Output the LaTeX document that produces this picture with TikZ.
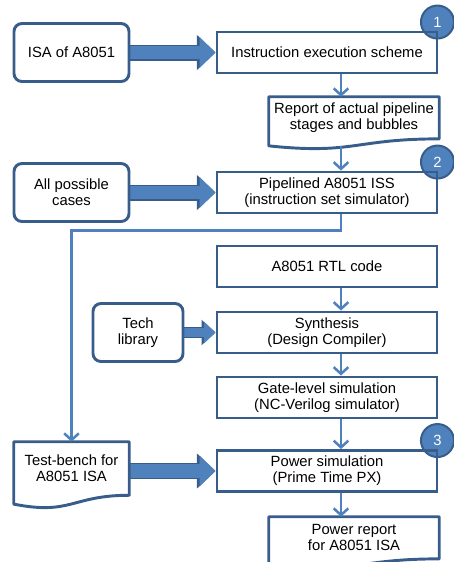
\documentclass[tikz,border=0pt]{standalone}
\usepackage{fontspec}
\setmainfont{Liberation Sans}
\usetikzlibrary{positioning, arrows.meta, calc, backgrounds}
\definecolor{boxblue}{RGB}{56,93,138}
\definecolor{arrowblue}{RGB}{79,129,189}
\tikzset{
  proc/.style={draw=boxblue, line width=2.2pt, minimum width=165pt, minimum height=30.75pt, inner sep=0pt, align=center},
  src/.style={draw=boxblue, line width=2.2pt, rounded corners=6pt, minimum width=86.25pt, minimum height=43.5pt, inner sep=0pt, align=center},
  docbox/.style={minimum width=127.5pt, minimum height=31.2pt, inner sep=0pt, align=center},
  conn/.style={draw=arrowblue, line width=1.9pt, -{Straight Barb[length=5pt, width=11pt]}},
  fatrim/.style={draw=boxblue, line width=12pt, -{Triangle[length=14pt, width=25.5pt]}},
  fat/.style={draw=arrowblue, line width=10pt, -{Triangle[length=12pt, width=22.5pt]}},
  fatrimsmall/.style={draw=boxblue, line width=8.5pt, -{Triangle[length=10.5pt, width=18.5pt]}},
  fatsmall/.style={draw=arrowblue, line width=6.5pt, -{Triangle[length=8.5pt, width=15.5pt]}},
  num/.style={circle, fill=arrowblue, draw=boxblue, line width=1.5pt, minimum size=24.75pt, inner sep=0pt, text=white},
}
% document shape: wavy bottom below the node, #2 = full height in px
\newcommand{\docwave}[2]{%
  \draw[boxblue, line width=2.2pt, line join=round] (#1.south east)
    .. controls (#1.south) and ($(#1.south)+(0,0.307*#2)$) .. ($(#1.south west)+(0,0.134*#2)$)
    -- (#1.north west) -- (#1.north east) -- cycle;
}

\begin{document}
\begin{tikzpicture}[x=0.75pt, y=-0.75pt, font=\fontsize{11.1}{12}\selectfont]
    \useasboundingbox (0,0) rectangle (454,562);

    % first column of steps
    \node[src] (isa) at (71.5,52.5) {ISA of A8051};
    \node[proc] (ies) at (327,52.5) {Instruction execution scheme};
    \node[docbox] (rep) at (354,117.8) {Report of actual pipeline\\stages and bubbles};
    \docwave{rep}{52}
    \node[src] (cases) at (71.5,192.5) {All possible\\cases};
    \node[proc] (pipe) at (327,192.5) {Pipelined A8051 ISS\\(instruction set simulator)};

    % RTL flow
    \node[proc] (rtl) at (327,266.5) {A8051 RTL code};
    \node[src, minimum width=67.5pt] (tech) at (138,332.5) {Tech\\library};
    \node[proc] (syn) at (327,332.5) {Synthesis\\(Design Compiler)};
    \node[proc] (gate) at (327,397.5) {Gate-level simulation\\(NC-Verilog simulator)};
    \node[docbox, minimum width=86.25pt, minimum height=39.75pt] (tb) at (71.5,468.5) {Test-bench for\\A8051 ISA};
    \docwave{tb}{66}
    \node[proc] (psim) at (327,471) {Power simulation\\(Prime Time PX)};
    \node[docbox] (prep) at (354,537.8) {Power report\\for A8051 ISA};
    \docwave{prep}{52}

    \begin{scope}[on background layer]
        \node[num] (n1) at ($(ies.north east)+(-1,-8.5)$) {1};
        \node[num] (n2) at ($(pipe.north east)+(-1,-8.5)$) {2};
        \node[num] (n3) at ($(psim.north east)+(-1,-8.5)$) {3};

        \draw[fatrim] (isa.east) -- (isa.east -| ies.west);
        \draw[fat] (isa.east) -- (isa.east -| ies.west);
        \draw[fatrim] (cases.east) -- (cases.east -| pipe.west);
        \draw[fat] (cases.east) -- (cases.east -| pipe.west);
        \draw[fatrimsmall] (tech.east) -- (tech.east -| syn.west);
        \draw[fatsmall] (tech.east) -- (tech.east -| syn.west);
        \draw[fatrim] (tb.east |- psim.west) -- (psim.west);
        \draw[fat] (tb.east |- psim.west) -- (psim.west);
    \end{scope}

    \coordinate (spine) at (341,0);
    \coordinate (rep-out) at ($(rep.south -| spine)+(0,7)$);
    \draw[conn] (ies.south -| spine) -- (rep.north -| spine);
    \draw[conn] (rep-out) -- (pipe.north -| spine);
    \draw[conn] (pipe.south -| spine) -- ++(0,16) -| (tb.north);
    \draw[conn] (rtl.south -| spine) -- (syn.north -| spine);
    \draw[conn] (syn.south -| spine) -- (gate.north -| spine);
    \draw[conn] (gate.south -| spine) -- (psim.north -| spine);
    \draw[conn] (psim.south -| spine) -- (prep.north -| spine);
\end{tikzpicture}
\end{document}
